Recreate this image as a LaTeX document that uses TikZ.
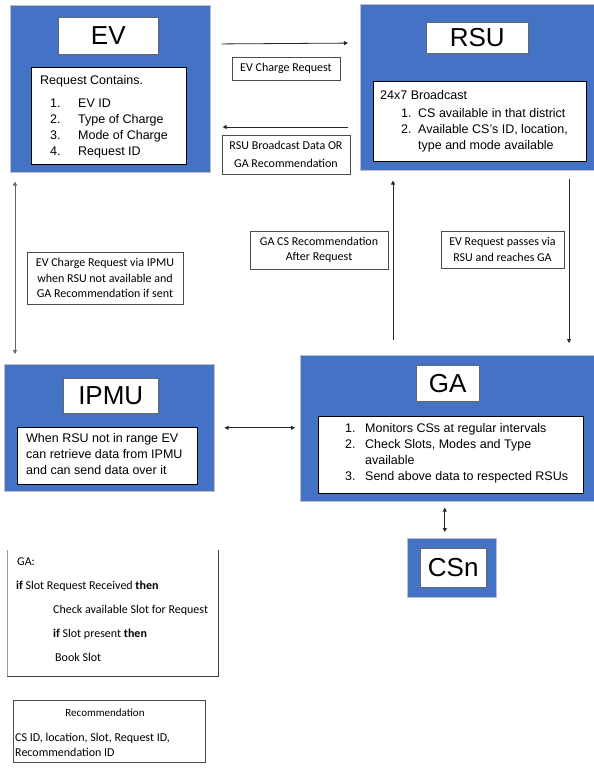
\documentclass[tikz,border=0pt]{standalone}
\usepackage{fontspec}
\setmainfont{Liberation Sans}
\newfontfamily\notefont{Carlito}
\usetikzlibrary{arrows.meta}

\definecolor{boxblue}{HTML}{4472C4}

\tikzset{
  unitbox/.style={fill=boxblue, draw=black!25, line width=0.6pt, anchor=north west, inner sep=0pt},
  titlebox/.style={fill=white, draw=black!60, line width=0.5pt, anchor=north west, inner sep=0pt,
    font=\fontsize{26}{30}\selectfont},
  bodybox/.style={fill=white, draw=black, line width=0.8pt, anchor=north west, inner sep=0pt},
  bodytext/.style={anchor=north west, align=left, inner sep=0pt, font=\fontsize{12.5}{16}\selectfont},
  notebox/.style={draw=black!70, line width=0.6pt, fill=white, align=center, inner sep=0pt,
    font=\notefont\fontsize{12}{15.5}\selectfont},
  notetext/.style={inner sep=0pt, font=\notefont\fontsize{12}{15}\selectfont},
  flow/.style={-{Triangle[length=4pt,width=4pt]}, line width=0.8pt, black!85},
  twoway/.style={{Triangle[length=4pt,width=4pt]}-{Triangle[length=4pt,width=4pt]}, line width=0.8pt, black!85}
}
\newcommand{\itm}[3][18pt]{\makebox[#1][l]{#2}#3}

\begin{document}
\begin{tikzpicture}[x=1pt, y=-1pt]
  \useasboundingbox (0,0) rectangle (594,772);

  % EV unit
  \node[unitbox, minimum width=200pt, minimum height=167pt] (ev) at (10,5) {};
  \node[titlebox, minimum width=100pt, minimum height=37pt] (evtitle) at (58,17) {EV};
  \node[bodybox, minimum width=155pt, minimum height=97pt] (evbody) at (31,67) {};
  \node[bodytext] (evtext) at (40,75.5) {Request Contains.\\[7pt]
    \hspace*{10pt}\itm[28pt]{1.}{EV ID}\\
    \hspace*{10pt}\itm[28pt]{2.}{Type of Charge}\\
    \hspace*{10pt}\itm[28pt]{3.}{Mode of Charge}\\
    \hspace*{10pt}\itm[28pt]{4.}{Request ID}};

  % RSU unit
  \node[unitbox, minimum width=234pt, minimum height=166pt] (rsu) at (360,4) {};
  \node[titlebox, minimum width=102pt, minimum height=31pt] (rsutitle) at (426,22) {RSU};
  \node[bodybox, minimum width=213pt, minimum height=80pt] (rsubody) at (373,81) {};
  \node[bodytext] (rsutext) at (380,90.5) {24x7 Broadcast\\[2pt]
    \hspace*{21pt}\itm[17pt]{1.}{CS available in that district}\\
    \hspace*{21pt}\itm[17pt]{2.}{Available CS's ID, location,}\\
    \hspace*{38pt}type and mode available};

  % IPMU unit
  \node[unitbox, minimum width=210pt, minimum height=127pt] (ipmu) at (4,364) {};
  \node[titlebox, minimum width=95pt, minimum height=35pt] (ipmutitle) at (63,378) {IPMU};
  \node[bodybox, minimum width=180pt, minimum height=57pt] (ipmubody) at (17,427) {};
  \node[bodytext] (ipmutext) at (26,433.5) {When RSU not in range EV\\
    can retrieve data from IPMU\\
    and can send data over it};

  % GA unit
  \node[unitbox, minimum width=294pt, minimum height=146pt] (ga) at (300,355) {};
  \node[titlebox, minimum width=63pt, minimum height=36pt] (gatitle) at (416,365) {GA};
  \node[bodybox, minimum width=265pt, minimum height=77pt] (gabody) at (318,416) {};
  \node[bodytext] (gatext) at (345,423.5) {\itm[20pt]{1.}{Monitors CSs at regular intervals}\\
    \itm[20pt]{2.}{Check Slots, Modes and Type}\\
    \hspace*{20pt}available\\
    \itm[20pt]{3.}{Send above data to respected RSUs}};

  % CSn unit
  \node[unitbox, minimum width=89pt, minimum height=59pt] (csn) at (407,538) {};
  \node[titlebox, minimum width=66pt, minimum height=39pt] (csntitle) at (420,548) {CSn};

  % Connectors between the units
  \draw[flow, shorten <=11pt, shorten >=12pt] ([yshift=-39pt]ev.north east) -- ([yshift=-39pt]rsu.north west);
  \draw[flow, shorten <=12pt, shorten >=12pt] ([yshift=-123pt]rsu.north west) -- ([yshift=-122pt]ev.north east);
  \draw[twoway, black!60, shorten <=9pt, shorten >=10pt] ([xshift=5pt]ev.south west) -- ([xshift=11pt]ipmu.north west);
  \draw[flow, shorten <=15pt, shorten >=10pt] ([xshift=93pt]ga.north west) -- ([xshift=33pt]rsu.south west);
  \draw[flow, shorten <=8pt, shorten >=12pt] ([xshift=209pt]rsu.south west) -- ([xshift=269pt]ga.north west);
  \draw[twoway, shorten <=10pt, shorten >=5pt] (ipmu.east) -- (ipmu.east -| ga.west);
  \draw[twoway, shorten <=6pt, shorten >=6pt] ([xshift=-7pt]csn.north |- ga.south) -- ([xshift=-7pt]csn.north);

  % Labels of the connectors
  \node[notebox, minimum width=108pt, minimum height=23pt] (evreq) at (286,68.5) {EV Charge Request};
  \node[notebox, minimum width=128pt, minimum height=39pt, font=\notefont\fontsize{12}{18}\selectfont]
    (rsudata) at (286,154.5) {RSU Broadcast Data OR\\GA Recommendation};
  \node[notebox, minimum width=156pt, minimum height=52pt] (ipmureq) at (105,278)
    {EV Charge Request via IPMU\\when RSU not available and\\GA Recommendation if sent};
  \node[notebox, minimum width=138pt, minimum height=38pt] (garec) at (319,250)
    {GA CS Recommendation\\After Request};
  \node[notebox, minimum width=123pt, minimum height=37pt] (evpass) at (502.5,249.5)
    {EV Request passes via\\RSU and reaches GA};

  % GA pseudo code
  \node[minimum width=211pt, minimum height=126pt, anchor=north west, inner sep=0pt] (gacode) at (7,550) {};
  \draw[black!40, line width=0.6pt] (gacode.north west) -- (gacode.south west);
  \draw[black!75, line width=1pt] (gacode.south west) -- (gacode.south east) -- (gacode.north east);
  \node[notetext, anchor=north west, align=left, font=\notefont\fontsize{12}{24}\selectfont] (gacodetext) at (16,558)
    {\hspace*{1pt}GA:\\
    \textbf{if} Slot Request Received \textbf{then}\\
    \hspace*{37pt}Check available Slot for Request\\
    \hspace*{37pt}\textbf{if} Slot present \textbf{then}\\
    \hspace*{39pt}Book Slot};

  % Recommendation record
  \node[draw=black!70, line width=0.6pt, minimum width=192pt, minimum height=62pt, anchor=north west, inner sep=0pt] (recbox) at (13,700) {};
  \node[notetext, font=\notefont\fontsize{11}{15}\selectfont] (rectitle) at (105,713) {Recommendation};
  \node[notetext, anchor=north west, align=left] (rectext) at (15,732.5)
    {CS ID, location, Slot, Request ID,\\Recommendation ID};
\end{tikzpicture}
\end{document}
